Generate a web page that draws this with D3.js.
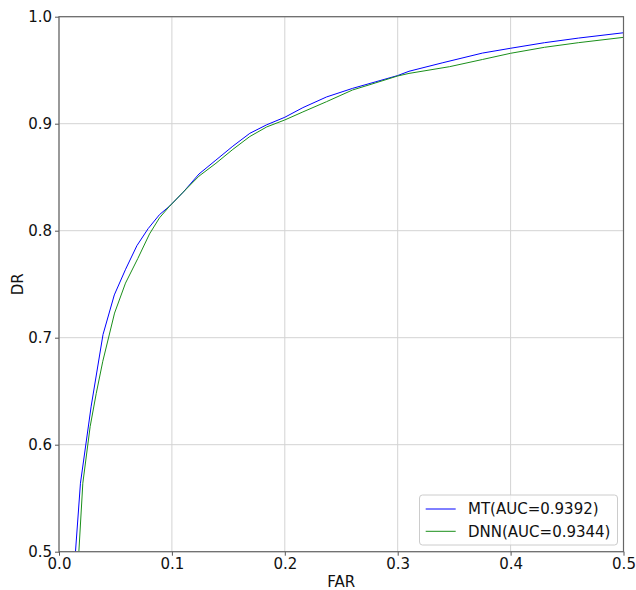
<!DOCTYPE html>
<html><head><meta charset="utf-8">
<script src="https://cdn.jsdelivr.net/npm/d3@7"></script>
<style>body{margin:0;background:#fff}svg{display:block}text{font-family:"DejaVu Sans",sans-serif}</style>
</head><body>
<script>
const xTicks = [0.0,0.1,0.2,0.3,0.4,0.5];
const yTicks = [0.5,0.6,0.7,0.8,0.9,1.0];
const seriesNames = ["MT(AUC=0.9392)","DNN(AUC=0.9344)"];
const mtFAR = [0.0146,0.019,0.0285,0.039,0.049,0.059,0.069,0.079,0.089,0.098,0.11,0.124,0.139,0.154,0.169,0.184,0.20,0.216,0.237,0.26,0.28,0.30,0.31,0.34,0.375,0.40,0.43,0.46,0.50];
const mtDR  = [0.50,0.564,0.636,0.703,0.740,0.764,0.786,0.802,0.815,0.823,0.836,0.853,0.866,0.879,0.891,0.899,0.906,0.915,0.925,0.933,0.939,0.945,0.949,0.957,0.966,0.9705,0.9757,0.980,0.985];
const dnnFAR = [0.0176,0.0211,0.0276,0.033,0.0388,0.0492,0.0589,0.0698,0.0802,0.089,0.098,0.11,0.124,0.139,0.154,0.169,0.184,0.20,0.216,0.237,0.26,0.28,0.30,0.31,0.346,0.375,0.40,0.43,0.46,0.50];
const dnnDR  = [0.50,0.564,0.617,0.648,0.678,0.723,0.751,0.774,0.797,0.812,0.823,0.836,0.851,0.863,0.876,0.888,0.897,0.9035,0.911,0.9206,0.9315,0.938,0.9446,0.947,0.9533,0.960,0.9658,0.9714,0.9757,0.9807];
const colors = ["#0000ff","#1a8f1a"];

const W=636,H=590, L=59, T=16.7, R=623.5, B=551.7;
const svg=d3.select("body").append("svg").attr("width",W).attr("height",H);
const x=d3.scaleLinear().domain([0,0.5]).range([L,R]);
const y=d3.scaleLinear().domain([0.5,1.0]).range([B,T]);
const FS=15;

const g=svg.append("g");
g.selectAll(".vx").data(xTicks).enter().append("line")
 .attr("x1",d=>x(d)).attr("x2",d=>x(d)).attr("y1",T).attr("y2",B)
 .attr("stroke","#d3d3d3").attr("stroke-width",1);
g.selectAll(".hy").data(yTicks).enter().append("line")
 .attr("y1",d=>y(d)).attr("y2",d=>y(d)).attr("x1",L).attr("x2",R)
 .attr("stroke","#d3d3d3").attr("stroke-width",1);

svg.append("defs").append("clipPath").attr("id","clip").append("rect")
 .attr("x",L).attr("y",T).attr("width",R-L).attr("height",B-T);

const line=d3.line().x(d=>x(d[0])).y(d=>y(d[1]));
const data=[d3.zip(mtFAR,mtDR), d3.zip(dnnFAR,dnnDR)];
svg.append("g").attr("clip-path","url(#clip)").selectAll("path").data(data).enter().append("path")
 .attr("d",line).attr("fill","none").attr("stroke",(d,i)=>colors[i]).attr("stroke-width",1);

const xAxis=d3.axisBottom(x).tickValues(xTicks).tickFormat(d3.format(".1f")).tickSize(4).tickPadding(3);
const yAxis=d3.axisLeft(y).tickValues(yTicks).tickFormat(d3.format(".1f")).tickSize(4).tickPadding(3);
const ax=svg.append("g").attr("transform",`translate(0,${B})`).call(xAxis);
const ay=svg.append("g").attr("transform",`translate(${L},0)`).call(yAxis);
[ax,ay].forEach(a=>{a.select(".domain").remove();a.selectAll("line").attr("stroke","#555");
 a.selectAll("text").attr("font-size",FS).attr("fill","#111").style("font-family","DejaVu Sans");});
ax.selectAll("text").attr("dy","0.71em");
svg.append("rect").attr("x",L).attr("y",T).attr("width",R-L).attr("height",B-T)
 .attr("fill","none").attr("stroke","#666").attr("stroke-width",1.2);

svg.append("text").attr("x",(L+R)/2).attr("y",586.5).attr("text-anchor","middle").attr("font-size",FS).attr("fill","#111").text("FAR");
svg.append("text").attr("transform",`translate(23,${(T+B)/2}) rotate(-90)`).attr("text-anchor","middle").attr("font-size",FS).attr("fill","#111").text("DR");

const lg=svg.append("g");
lg.append("rect").attr("x",419.5).attr("y",495).attr("width",198).attr("height",50).attr("rx",3)
 .attr("fill","#fff").attr("fill-opacity",0.8).attr("stroke","#ccc").attr("stroke-width",1);
seriesNames.forEach((n,i)=>{
 const yy=509+i*22.3;
 lg.append("line").attr("x1",425.7).attr("x2",455.7).attr("y1",yy).attr("y2",yy).attr("stroke",colors[i]).attr("stroke-width",1);
 lg.append("text").attr("x",468).attr("y",yy).attr("dy","0.36em").attr("font-size",FS).attr("fill","#111").text(n);
});
</script>
</body></html>
